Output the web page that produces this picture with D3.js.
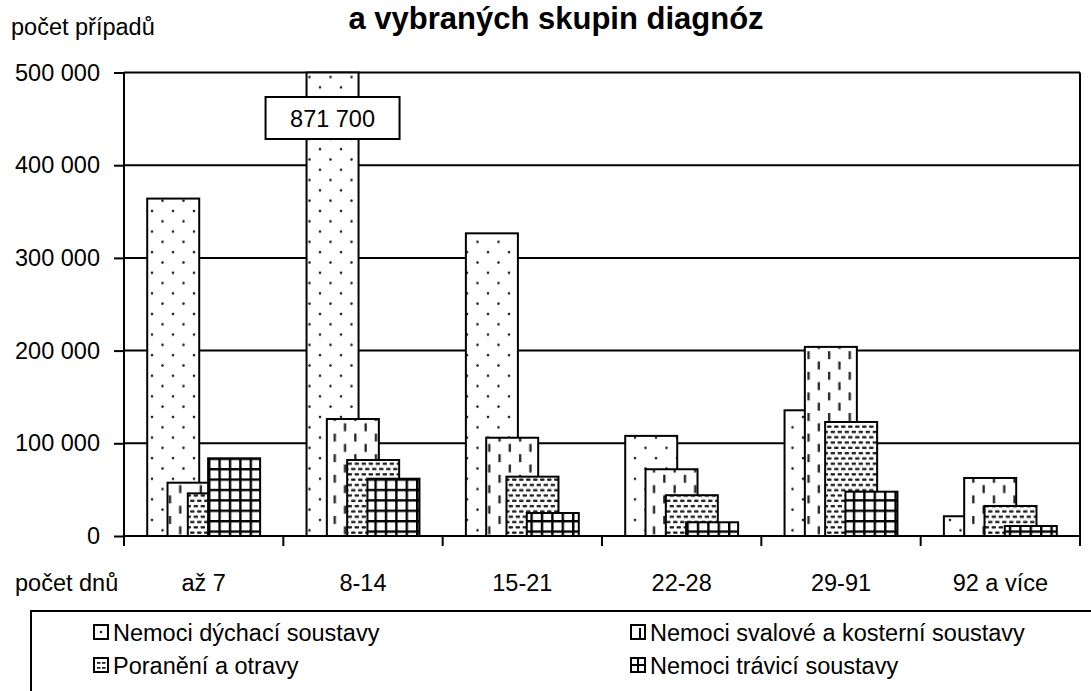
<!DOCTYPE html>
<html><head><meta charset="utf-8">
<script src="https://cdn.jsdelivr.net/npm/d3@7"></script>
<style>
body{margin:0;background:#fff}
svg{display:block}
text{font-family:"Liberation Sans",Arial,Helvetica,sans-serif;fill:#000}
</style>
</head><body>
<svg id="c" width="1091" height="691"></svg>
<script>
// ---- data ----
const categories = ["až 7", "8-14", "15-21", "22-28", "29-91", "92 a více"];
const seriesNames = ["Nemoci dýchací soustavy", "Nemoci svalové a kosterní soustavy", "Poranění a otravy", "Nemoci trávicí soustavy"];
const dychaci  = [364000, 871700, 326500, 108000, 135600, 21300];
const svalove  = [57500, 126200, 106000, 72000, 204000, 62600];
const poraneni = [46000, 82000, 64000, 44000, 123000, 32400];
const travici  = [83800, 61800, 24800, 14800, 47800, 10800];
const yTicks = [0, 100000, 200000, 300000, 400000, 500000];
const yTickLabels = ["0", "100 000", "200 000", "300 000", "400 000", "500 000"];
const titleText = "a vybraných skupin diagnóz";
const yAxisTitle = "počet případů";
const xAxisTitle = "počet dnů";
const outlierText = "871 700";

const seriesValues = [dychaci, svalove, poraneni, travici];
const patternIds = ["p-dots", "p-vdash", "p-hdash", "p-grid"];

const svg = d3.select("#c");
const defs = svg.append("defs");

// patterns
function pat(id, w, h) {
  const p = defs.append("pattern").attr("id", id).attr("patternUnits", "userSpaceOnUse")
    .attr("width", w).attr("height", h);
  p.append("rect").attr("width", w).attr("height", h).attr("fill", "#fff");
  return p;
}
let p = pat("p-dots", 21, 20.6);
p.append("circle").attr("cx", 5).attr("cy", 5).attr("r", 1.3).attr("fill", "#222");
p.append("circle").attr("cx", 15.5).attr("cy", 15.3).attr("r", 1.3).attr("fill", "#222");

p = pat("p-vdash", 20.6, 20.6);
p.append("rect").attr("x", 4).attr("y", 1).attr("width", 2.3).attr("height", 8).attr("fill", "#222");
p.append("rect").attr("x", 14.3).attr("y", 11.3).attr("width", 2.3).attr("height", 8).attr("fill", "#222");

p = pat("p-hdash", 7, 10.6);
[[1, 1.5], [4.5, 6.8], [-2.5, 6.8]].forEach(([a, b]) =>
  p.append("rect").attr("x", a).attr("y", b).attr("width", 4.6).attr("height", 2.3).attr("rx", 1).attr("fill", "#222"));

p = pat("p-grid", 10.4, 10.4);
p.append("rect").attr("width", 10.4).attr("height", 2.4).attr("fill", "#000");
p.append("rect").attr("width", 2.4).attr("height", 10.4).attr("fill", "#000");

// scales
const x = d3.scaleBand().domain(categories).range([124, 1080]).paddingInner(0).paddingOuter(0);
const y = d3.scaleLinear().domain([0, 500000]).range([536, 72.5]).clamp(true);
const bw = x.bandwidth();
const barW = bw * 0.3264;
const step = bw * 0.1274;
const offset = d3.scaleLinear().domain([0, 3]).range([-(3 * step + barW) / 2, -(3 * step + barW) / 2 + 3 * step]);

// gridlines
svg.append("g").selectAll("line").data(yTicks.filter(d => d > 0)).join("line")
  .attr("x1", 124).attr("x2", 1080).attr("y1", d => y(d)).attr("y2", d => y(d))
  .attr("stroke", "#000").attr("stroke-width", 2);

// bars
const barsG = svg.append("g");
categories.forEach((c, ci) => {
  seriesValues.forEach((vals, si) => {
    const v = vals[ci];
    barsG.append("rect")
      .attr("x", x(c) + bw / 2 + offset(si))
      .attr("y", y(v))
      .attr("width", barW)
      .attr("height", y(0) - y(v))
      .attr("fill", `url(#${patternIds[si]})`)
      .attr("stroke", "#000").attr("stroke-width", 2);
  });
});

// plot right border
svg.append("line").attr("x1", 1080).attr("x2", 1080).attr("y1", y(500000)).attr("y2", y(0))
  .attr("stroke", "#000").attr("stroke-width", 2);

// y axis
const yAxis = d3.axisLeft(y).tickValues(yTicks).tickSize(10).tickFormat((d, i) => yTickLabels[i]);
const yg = svg.append("g").attr("transform", "translate(124,0)").call(yAxis);
yg.select(".domain").attr("stroke", "#000").attr("stroke-width", 2).attr("d", `M0,${y(500000)}V${y(0)}`);
yg.selectAll(".tick line").attr("stroke", "#000").attr("stroke-width", 2);
yg.selectAll(".tick text").attr("x", -24).attr("font-size", 23.5).attr("font-family", null).attr("fill", "#000");

// x axis
const xg = svg.append("g");
xg.append("line").attr("x1", 124).attr("x2", 1080).attr("y1", y(0)).attr("y2", y(0))
  .attr("stroke", "#000").attr("stroke-width", 2);
const bounds = categories.map(c => x(c)).concat([x(categories[categories.length - 1]) + bw]);
xg.selectAll("line.t").data(bounds).join("line").attr("class", "t")
  .attr("x1", d => d).attr("x2", d => d).attr("y1", y(0)).attr("y2", y(0) + 10)
  .attr("stroke", "#000").attr("stroke-width", 2);
xg.selectAll("text").data(categories).join("text")
  .attr("x", d => x(d) + bw / 2).attr("y", 591).attr("text-anchor", "middle")
  .attr("font-size", 23.5).text(d => d);

svg.append("text").attr("x", 15).attr("y", 591).attr("font-size", 23.5).text(xAxisTitle);
svg.append("text").attr("x", 11).attr("y", 35).attr("font-size", 23.5).text(yAxisTitle);

// title
svg.append("text").attr("x", 556).attr("y", 29).attr("text-anchor", "middle")
  .attr("font-size", 31).attr("font-weight", "bold").text(titleText);

// outlier label
const ocx = x(categories[1]) + bw / 2 + offset(0) + barW / 2;
svg.append("rect").attr("x", ocx - 67).attr("y", 97).attr("width", 134).attr("height", 42)
  .attr("fill", "#fff").attr("stroke", "#000").attr("stroke-width", 2);
svg.append("text").attr("x", ocx).attr("y", 126.5).attr("text-anchor", "middle")
  .attr("font-size", 23.5).text(outlierText);

// legend
svg.append("rect").attr("x", 31).attr("y", 611).attr("width", 1100).attr("height", 120)
  .attr("fill", "none").attr("stroke", "#000").attr("stroke-width", 2);
const ldefs = [
  g => g.append("circle").attr("cx", 7).attr("cy", 7).attr("r", 1.3).attr("fill", "#222"),
  g => { g.append("line").attr("x1", 9).attr("x2", 9).attr("y1", 3).attr("y2", 14).attr("stroke", "#000").attr("stroke-width", 2); },
  g => { [[3, 4], [8, 4], [3, 9], [8, 9]].forEach(([a, b]) => g.append("rect").attr("x", a).attr("y", b).attr("width", 3.5).attr("height", 1.8).attr("fill", "#222")); },
  g => { g.append("line").attr("x1", 7).attr("x2", 7).attr("y1", 0).attr("y2", 14).attr("stroke", "#000").attr("stroke-width", 2);
         g.append("line").attr("x1", 0).attr("x2", 14).attr("y1", 7).attr("y2", 7).attr("stroke", "#000").attr("stroke-width", 2); }
];
const lx = d3.scaleOrdinal().domain([0, 1]).range([94, 631]);
const ly = d3.scaleOrdinal().domain([0, 1]).range([632, 665]);
seriesNames.forEach((name, i) => {
  const g = svg.append("g").attr("transform", `translate(${lx(i % 2)},${ly(Math.floor(i / 2)) - 7})`);
  g.append("rect").attr("width", 14).attr("height", 14).attr("fill", "#fff").attr("stroke", "#000").attr("stroke-width", 2);
  ldefs[i](g);
  g.append("text").attr("x", 19).attr("y", 15.5).attr("font-size", 23.5).text(name);
});
</script>
</body></html>
